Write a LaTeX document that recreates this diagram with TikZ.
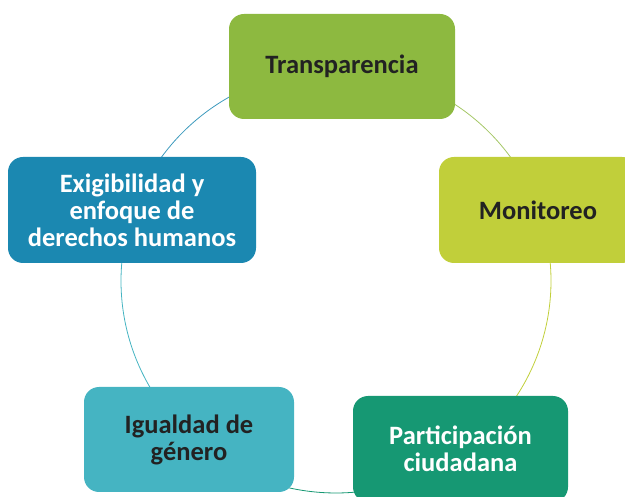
\documentclass[tikz,border=0pt]{standalone}
\usepackage{fontspec}
\setmainfont{Carlito}
\definecolor{cT}{HTML}{8DB940}
\definecolor{cM}{HTML}{C1CF3A}
\definecolor{cP}{HTML}{169873}
\definecolor{cI}{HTML}{45B4C2}
\definecolor{cE}{HTML}{1B88B1}
\definecolor{ink}{HTML}{222222}
\begin{document}
\begin{tikzpicture}[x=1pt,y=1pt,
  box/.style={rounded corners=15pt, minimum height=105pt, align=center,
    font=\fontsize{26.5}{27}\selectfont\bfseries, inner sep=0pt},
  ring/.style={line width=0.8pt}]
\useasboundingbox (0,0) rectangle (625,-497);
\clip (0,0) rectangle (625,-497);
\coordinate (O) at (336,-281);
% ring segments
\draw[ring, cT!80] (O) ++(88.4:215pt and 212pt) arc[start angle=88.4, end angle=19.6, x radius=215pt, y radius=212pt];
\draw[ring, cM] (O) ++(19.6:215pt and 212pt) arc[start angle=19.6, end angle=-53.8, x radius=215pt, y radius=212pt];
\draw[ring, cP] (O) ++(-53.8:215pt and 212pt) arc[start angle=-53.8, end angle=-132.4, x radius=215pt, y radius=212pt];
\draw[ring, cI] (O) ++(227.6:215pt and 212pt) arc[start angle=227.6, end angle=160.6, x radius=215pt, y radius=212pt];
\draw[ring, cE!85] (O) ++(160.6:215pt and 212pt) arc[start angle=160.6, end angle=88.4, x radius=215pt, y radius=212pt];
% boxes
\node[box, fill=cT, text=ink, minimum width=226pt] (T) at (342,-66.5) {Transparencia};
\node[box, fill=cM, text=ink, minimum width=198pt, minimum height=106pt] (M) at (538,-210) {Monitoreo};
\node[box, fill=cP, text=white, minimum width=215pt, minimum height=106pt] (P) at (460.5,-449) {Participación\\ciudadana};
\node[box, fill=cI, text=ink, minimum width=210pt] (I) at (189,-439.5) {Igualdad de\\género};
\node[box, fill=cE, text=white, minimum width=248pt, minimum height=106pt] (E) at (132,-210) {Exigibilidad y\\enfoque de\\derechos humanos};
\end{tikzpicture}
\end{document}
